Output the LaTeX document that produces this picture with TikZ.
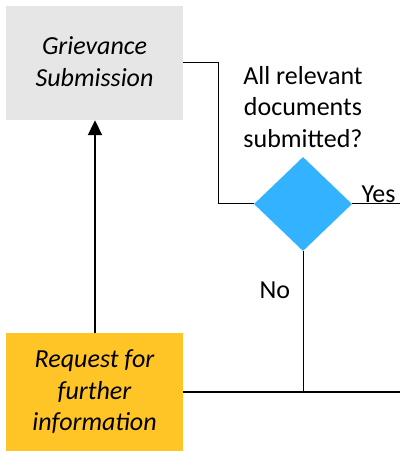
\documentclass[tikz,border=0pt]{standalone}
\usepackage{fontspec}
\setmainfont{Carlito}
\usepackage{xcolor}
\usetikzlibrary{shapes.geometric,arrows.meta}

\definecolor{boxgray}{RGB}{230,230,230}
\definecolor{decblue}{RGB}{50,178,255}
\definecolor{reqyellow}{RGB}{255,196,37}

\begin{document}
\begin{tikzpicture}[x=1pt,y=1pt,
    stepbox/.style={rectangle, minimum width=177pt, inner sep=0pt, align=center,
      font=\fontsize{26}{31.5}\selectfont\itshape},
    flow/.style={draw=black, line width=1pt},
    label/.style={font=\fontsize{26}{31.5}\selectfont}]
    \useasboundingbox (0,0) rectangle (400,451);
    \def\bx{218}; %bend of the line%
    \node[stepbox, fill=boxgray, minimum height=114pt, text depth=3pt] (grievance) at (94.5,388) {Grievance\\Submission};
    \node[stepbox, fill=reqyellow, minimum height=118pt] (request) at (94.5,59) {Request for\\further\\information};
    \node[diamond, fill=decblue, minimum width=98pt, minimum height=94pt, inner sep=0pt] (decision) at (303,247) {};
    \node[label, align=center] (question) at (303,344) {All relevant\\documents\\submitted?};
    \coordinate (yesend) at (400,247);
    \coordinate (noend) at (decision.south |- request.east);
    \coordinate (rightend) at (400,59);

    \draw[line width=2pt, -{Triangle[width=14pt,length=15pt]}] (request.north -| 95,0) -- (grievance.south -| 95,0); %back to submission%
    \draw[flow] (grievance.east) -- (\bx,388) |- (decision.west);
    \draw[flow] (decision.east) -- node[label, above, pos=0.55, inner sep=1pt] (yes) {Yes} (yesend);
    \draw[flow] (decision.south) -- node[label, left, pos=0.28, xshift=-9pt] (no) {No} (noend);
    \draw[line width=2pt] (request.east) -- (rightend); %request line%
\end{tikzpicture}
\end{document}
